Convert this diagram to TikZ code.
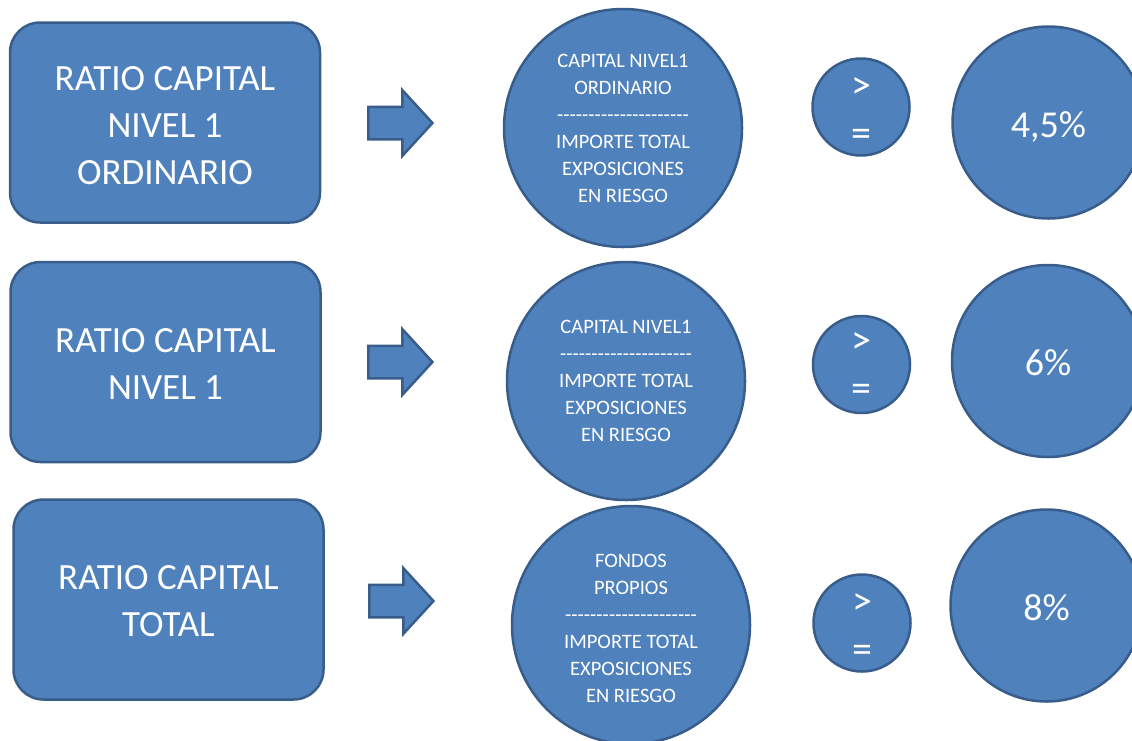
\documentclass[tikz,border=0pt]{standalone}
\usepackage{fontspec}
\setmainfont{Carlito}
\usetikzlibrary{shapes.arrows}
\definecolor{fillblue}{HTML}{4F81BD}
\definecolor{edgeblue}{HTML}{385D8A}
\tikzset{
  base/.style={fill=fillblue, draw=edgeblue, line width=2.5pt, text=white, inner sep=0pt},
  ratiobox/.style={base, rectangle, rounded corners=30pt, minimum width=310pt, minimum height=200pt,
    font=\fontsize{37}{47}\selectfont},
  formula/.style={base, circle, minimum size=238pt, align=center, font=\fontsize{20.5}{27}\selectfont},
  relop/.style={base, circle, minimum size=97pt, font=\fontsize{40}{48}\selectfont},
  pct/.style={base, circle, minimum size=192pt, font=\fontsize{38}{46}\selectfont},
  blockarrow/.style={fill=fillblue, draw=edgeblue, line width=2.5pt, single arrow,
    minimum height=64pt, inner xsep=0pt, inner ysep=15pt, text height=0pt, text depth=0pt,
    single arrow head extend=16.5pt, single arrow tip angle=95},
}
\newcommand{\dashline}{-{}-{}-{}-{}-{}-{}-{}-{}-{}-{}-{}-{}-{}-{}-{}-{}-{}-{}-{}-{}-{}}
% lower the text by #2 without changing the extent the node centres
\newcommand{\lowtext}[3]{\raisebox{-#2}[\height][\depth]{\parbox{#1}{\centering #3}}}
\newcommand{\lowone}[2]{\raisebox{-#1}[\height][\depth]{#2}}
\begin{document}
\begin{tikzpicture}[x=1pt,y=-1pt]
\useasboundingbox (0,0) rectangle (1132,740);
\clip (0,0) rectangle (1132,740);
% left boxes
\node[ratiobox] (b1) at (165,122.5) {\lowtext{300pt}{3pt}{RATIO CAPITAL\\NIVEL 1\\ORDINARIO}};
\node[ratiobox] (b2) at (165.5,362) {\lowtext{300pt}{2pt}{RATIO CAPITAL\\NIVEL 1}};
\node[ratiobox] (b3) at (168.5,599.5) {\lowtext{300pt}{1.5pt}{RATIO CAPITAL\\TOTAL}};
% block arrows
\node[blockarrow] (a1) at (393,123) {};
\node[blockarrow] (a2) at (393,362) {};
\node[blockarrow] (a3) at (394,601) {};
% formula circles
\node[formula] (f1) at (623,128) {CAPITAL NIVEL1\\ORDINARIO\\\dashline\\IMPORTE TOTAL\\EXPOSICIONES\\EN RIESGO};
\node[formula] (f2) at (626,381) {CAPITAL NIVEL1\\\dashline\\IMPORTE TOTAL\\EXPOSICIONES\\EN RIESGO};
\node[formula] (f3) at (631,625) {\lowtext{140pt}{3.5pt}{FONDOS\\PROPIOS\\\dashline\\IMPORTE TOTAL\\EXPOSICIONES\\EN RIESGO}};
% relation circles
\node[relop] (r1) at (861,107) {\lowtext{50pt}{5pt}{>\\=}};
\node[relop] (r2) at (861.5,364.5) {\lowtext{50pt}{3pt}{>\\=}};
\node[relop] (r3) at (862,623) {\lowtext{50pt}{5pt}{>\\=}};
% percentage circles
\node[pct] (p1) at (1048.5,122.5) {\lowone{4pt}{4,5\%}};
\node[pct] (p2) at (1048,361) {\lowone{2pt}{6\%}};
\node[pct] (p3) at (1046.5,605.5) {\lowone{2pt}{8\%}};
\end{tikzpicture}
\end{document}
